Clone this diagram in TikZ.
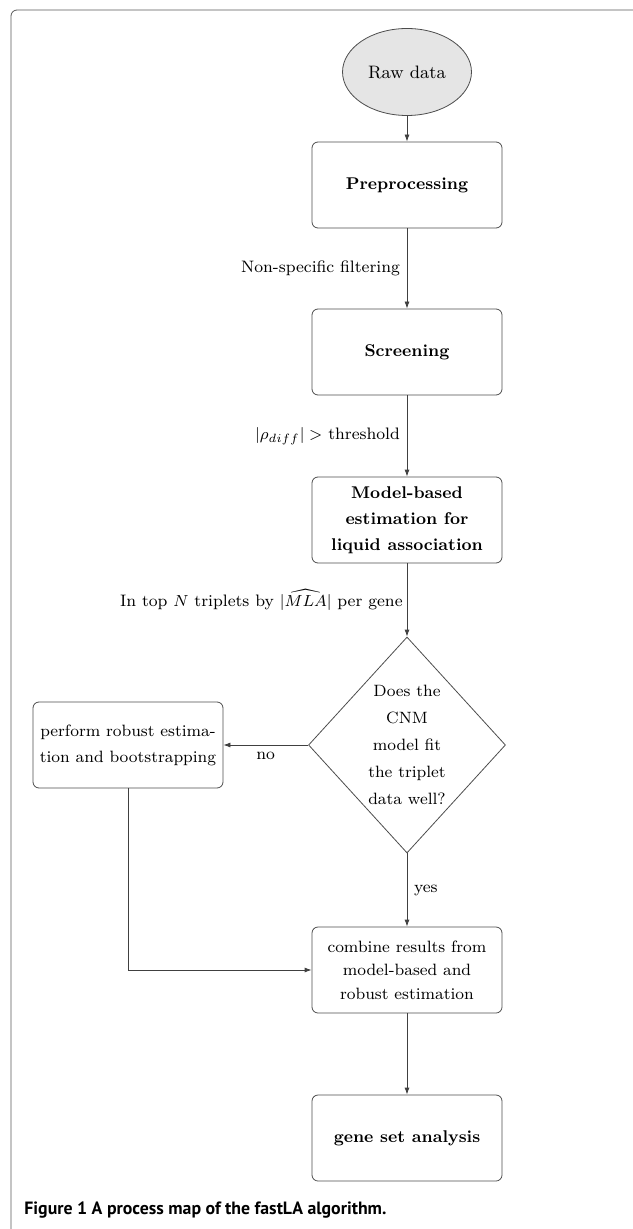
\documentclass[tikz,border=0pt]{standalone}
\usepackage{fontspec}
\newfontfamily\capfont{PT Sans}
\usetikzlibrary{shapes.geometric,arrows.meta}

\begin{document}
\begin{tikzpicture}[x=0.5pt,y=-0.5pt,
  box/.style={draw=black!70,rounded corners=3pt,minimum width=95pt,minimum height=43pt,
    align=center,font=\fontsize{8.2}{13}\selectfont},
  bigbox/.style={box,font=\fontsize{8.5}{13}\selectfont\bfseries},
  arr/.style={draw=black!75,-{Latex[length=3.5pt,width=2.5pt]}},
  lbl/.style={font=\fontsize{8.3}{10}\selectfont}]

\useasboundingbox (0,0) rectangle (632,1229);

% frame
\draw[black!65,rounded corners=3pt] (650,10) -- (11,10) -- (11,1240);

\node[draw=black!70,fill=black!10,ellipse,minimum width=62.5pt,minimum height=43.5pt,
  font=\fontsize{9}{11}\selectfont] (raw) at (407,72) {Raw data};
\node[bigbox] (pre) at (407,185) {Preprocessing};
\node[bigbox] (scr) at (407,352) {Screening};
\node[bigbox] (mod) at (407,520)
  {Model-based\\estimation for\\liquid association};
\node[draw=black!70,diamond,minimum width=90pt,minimum height=108pt,inner sep=0pt,
  align=center,font=\fontsize{8.2}{13.5}\selectfont] (fit) at (407,745)
  {Does the\\CNM\\model fit\\the triplet\\data well?};
\node[box] (rob) at (128,745) {perform robust estima-\\tion and bootstrapping};
\node[box,font=\fontsize{8.2}{11.7}\selectfont] (comb) at (407,970)
  {combine results from\\model-based and\\robust estimation};
\node[bigbox] (gsa) at (407,1138) {gene set analysis};

\draw[arr] (raw) -- (pre);
\draw[arr] (pre) -- node[lbl,left] (l1) {Non-specific filtering} (scr);
\draw[arr] (scr) -- node[lbl,left] (l2) {$|\rho_{diff}| >$ threshold} (mod);
\draw[arr] (mod) -- node[lbl,left,inner sep=2pt] (l3) {In top $N$ triplets by $|\widehat{MLA}|$ per gene} (fit);
\draw[arr] (fit) -- node[lbl,below] (l4) {no} (rob);
\draw[arr] (fit) -- node[lbl,right] (l5) {yes} (comb);
\draw[arr] (rob) |- (comb);
\draw[arr] (comb) -- (gsa);

\node[anchor=west,inner sep=0pt,font=\fontsize{8.9}{10}\capfont\bfseries] (cap) at (24,1210)
  {Figure 1 A process map of the fastLA algorithm.};
\end{tikzpicture}
\end{document}
